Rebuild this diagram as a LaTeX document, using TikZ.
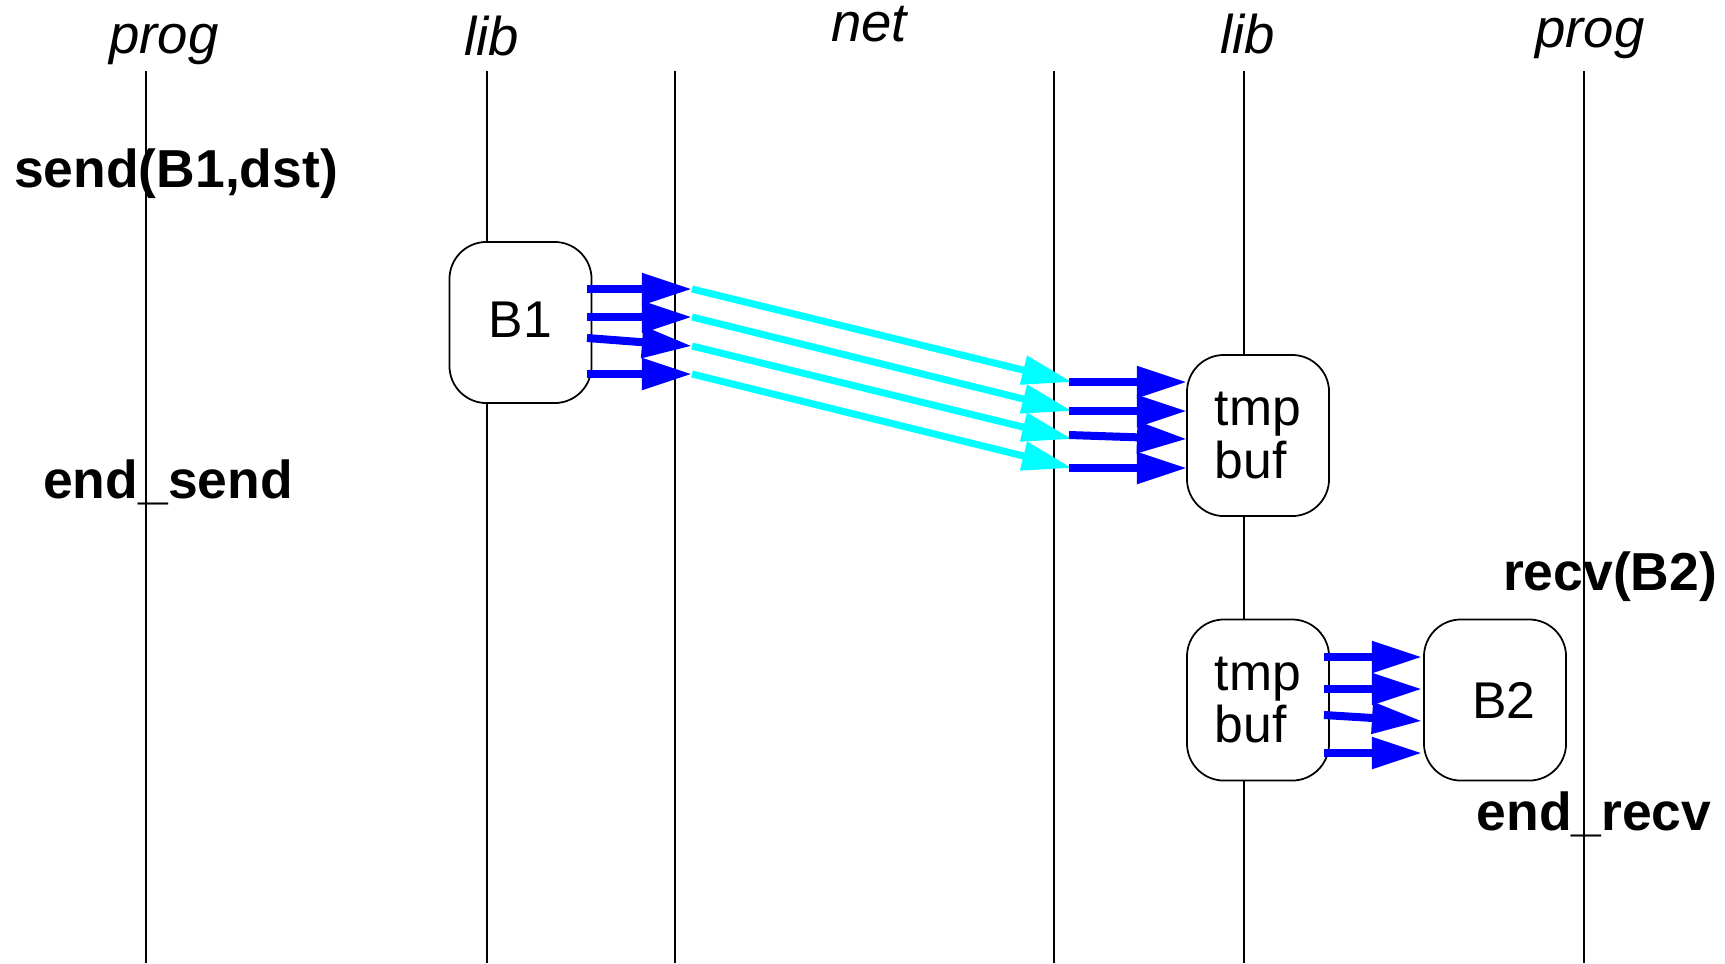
\documentclass[tikz,border=0pt]{standalone}
\usepackage{fontspec}
\setmainfont{Liberation Sans}
\usetikzlibrary{arrows.meta}
\definecolor{aqua}{RGB}{0,255,255}
\definecolor{pureblue}{RGB}{0,0,255}

\begin{document}
\begin{tikzpicture}[x=0.01cm,y=-0.01cm,
  buffer/.style={draw,line width=0.5pt,fill=white,rounded corners=0.37cm,minimum width=1.42cm,minimum height=1.61cm,inner sep=0pt,align=left,font=\fontsize{14.7}{15}\selectfont},
  layer/.style={anchor=base,font=\fontsize{15.5}{18}\selectfont\itshape},
  call/.style={anchor=base,font=\fontsize{15.2}{18}\selectfont\bfseries},
  copy/.style={pureblue,line width=0.08cm,-{Triangle[length=0.5cm,width=0.3cm]}},
  wire/.style={aqua,line width=0.07cm,-{Triangle[length=0.5cm,width=0.28cm]}}]
\useasboundingbox (0,0) rectangle (1725,963);
\foreach \x in {146,487,675,1054,1244,1584}
  \draw[line width=0.6pt] (\x,71) -- (\x,963);
\node[layer] (prog1) at (164,53) {prog};
\node[layer] (lib1) at (492,55) {lib};
\node[layer] (net) at (869,41) {net};
\node[layer] (lib2) at (1248,53) {lib};
\node[layer] (prog2) at (1590,47) {prog};
\node[call] (send) at (176,187) {send(B1,dst)};
\node[call] (endsend) at (168,498) {end\_send};
\node[call] (recv) at (1610,590) {recv(B2)};
\node[call] (endrecv) at (1594,830) {end\_recv};
\node[buffer] (B1) at (520.5,322.5) {\raisebox{0.06cm}{B1}};
\node[buffer] (tmp1) at (1258,435.5) {tmp\\buf};
\node[buffer] (tmp2) at (1258,700) {tmp\\buf};
\node[buffer] (B2) at (1495,700) {\hspace{0.18cm}B2};
\foreach \i/\ya/\yb/\yc/\yd in {1/289/289/382/382,2/317/317/411/411,3/338/346/435/439,4/374/374/468/468}{
  \coordinate (out\i) at (587,\ya);
  \coordinate (net\i) at (692,\yb);
  \coordinate (arr\i) at (1072,\yd);
  \coordinate (rx\i) at (1069,\yc);
  \coordinate (in\i) at (1187,\yd);
}
\foreach \i/\ya/\yb in {1/657/657,2/689/689,3/715/721,4/753/753}{
  \coordinate (cp\i) at (1324,\ya);
  \coordinate (dst\i) at (1422,\yb);
}
\foreach \i in {1,...,4}{
  \draw[copy] (out\i) -- (net\i);
  \draw[wire] (net\i) -- (arr\i);
  \draw[copy] (rx\i) -- (in\i);
  \draw[copy] (cp\i) -- (dst\i);
}
\end{tikzpicture}
\end{document}
